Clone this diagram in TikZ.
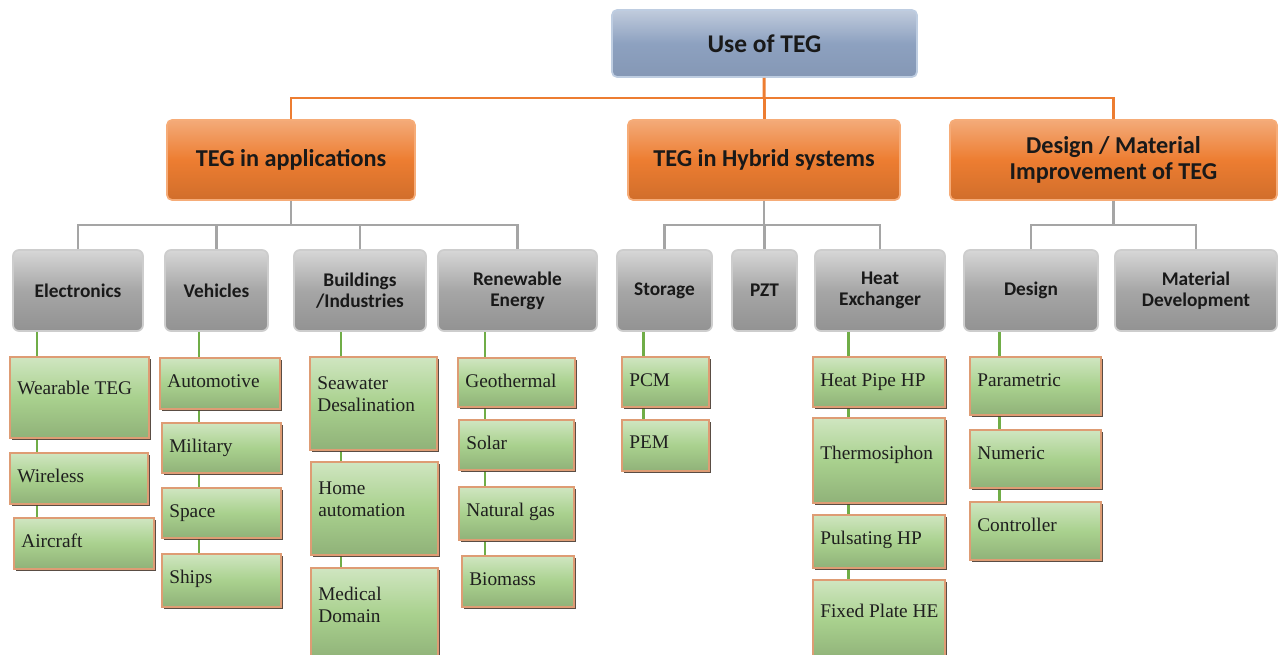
\documentclass[tikz,border=0pt]{standalone}
\usepackage{fontspec}
\setmainfont{Liberation Serif}
\newfontfamily\hdfont{Carlito}
\usetikzlibrary{calc, backgrounds, shadows}
\definecolor{topblue}{RGB}{141,161,192}
\definecolor{topedge}{RGB}{190,205,225}
\definecolor{tegorange}{RGB}{237,125,49}
\definecolor{orangeedge}{RGB}{246,172,120}
\definecolor{boxgrey}{RGB}{166,166,166}
\definecolor{greyedge}{RGB}{205,205,205}
\definecolor{leafgreen}{RGB}{169,209,142}
\definecolor{leafedge}{RGB}{222,156,116}
\definecolor{leafshadow}{RGB}{72,58,48}
\definecolor{linegreen}{RGB}{112,173,71}
\definecolor{linegrey}{RGB}{165,165,165}
\newcommand{\topfont}{\hdfont\bfseries\fontsize{14.5}{17}\selectfont}
\newcommand{\midfont}{\hdfont\bfseries\fontsize{13.8}{15}\selectfont}
\newcommand{\catfont}{\hdfont\bfseries\fontsize{11}{12}\selectfont}
\newcommand{\leaffont}{\fontsize{11}{12.5}\selectfont}

\begin{document}
\begin{tikzpicture}[x=0.02cm, y=-0.02cm,
    topbox/.style={draw=topedge, line width=1pt, rounded corners=0.1cm, top color=topblue!55!white, bottom color=topblue!94!black, middle color=topblue, minimum width=6.1cm, minimum height=1.34cm, font=\topfont, text=black!90},
    catbox/.style={draw=orangeedge, line width=1pt, rounded corners=0.1cm, top color=tegorange!65!white, bottom color=tegorange!88!black, middle color=tegorange, minimum height=1.6cm, align=center, font=\midfont, text=black!90},
    subbox/.style={draw=greyedge, line width=1pt, rounded corners=0.12cm, top color=boxgrey!45!white, bottom color=boxgrey!88!black, middle color=boxgrey, minimum height=1.62cm, align=center, font=\catfont, text=black!90},
    leaf/.style={draw=leafedge, line width=1.2pt, inner sep=0pt, top color=leafgreen!55!white, bottom color=leafgreen!85!black, middle color=leafgreen, drop shadow={shadow xshift=1.1pt, shadow yshift=-1.1pt, fill=leafshadow, opacity=0.9}},
    leaflab/.style={anchor=north west, inner sep=0pt, xshift=0.16cm, yshift=-0.34cm, align=left, font=\leaffont, text=black!88},
    orline/.style={draw=tegorange, line width=1.7pt},
    grline/.style={draw=linegrey, line width=1.5pt},
    gnline/.style={draw=linegreen, line width=1.7pt}
  ]
  \useasboundingbox (0,0) rectangle (1278,655);

  % root and main branches
  \node[topbox] (use) at (764.5,43.5) {Use of TEG};
  \node[catbox, minimum width=4.96cm] (app) at (291,160) {TEG in applications};
  \node[catbox, minimum width=5.44cm] (hyb) at (764,160) {TEG in Hybrid systems};
  \node[catbox, minimum width=6.54cm] (des) at (1113.5,160) {Design / Material\\Improvement of TEG};

  % sub categories
  \node[subbox, minimum width=2.6cm] (elec) at (78,290.5) {Electronics};
  \node[subbox, minimum width=2.06cm] (veh) at (216.5,290.5) {Vehicles};
  \node[subbox, minimum width=2.64cm] (bld) at (360,290.5) {Buildings\\/Industries};
  \node[subbox, minimum width=3.18cm] (ren) at (517.5,290.5) {Renewable\\Energy};
  \node[subbox, minimum width=1.9cm] (stor) at (664.5,290.5) {Storage};
  \node[subbox, minimum width=1.3cm] (pzt) at (764.5,290.5) {PZT};
  \node[subbox, minimum width=2.6cm] (hx) at (880,290.5) {Heat\\Exchanger};
  \node[subbox, minimum width=2.68cm] (dsg) at (1031,290.5) {Design};
  \node[subbox, minimum width=3.24cm] (mat) at (1196,290.5) {Material\\Development};

  % leaves
  \node[leaf, minimum width=2.78cm, minimum height=1.62cm, label={[leaflab, yshift=-0.16cm]north west:Wearable TEG}] (wear) at (79.5,397.5) {};
  \node[leaf, minimum width=2.76cm, minimum height=1.02cm, label={[leaflab]north west:Wireless}] (wire) at (79,478.5) {};
  \node[leaf, minimum width=2.8cm, minimum height=1.02cm, label={[leaflab]north west:Aircraft}] (air) at (84,543.5) {};

  \node[leaf, minimum width=2.4cm, minimum height=1.02cm, label={[leaflab]north west:Automotive}] (auto) at (220,383.5) {};
  \node[leaf, minimum width=2.38cm, minimum height=1cm, label={[leaflab]north west:Military}] (mil) at (221.5,448) {};
  \node[leaf, minimum width=2.38cm, minimum height=1cm, label={[leaflab]north west:Space}] (spc) at (221.5,513) {};
  \node[leaf, minimum width=2.38cm, minimum height=1.06cm, label={[leaflab]north west:Ships}] (ship) at (221.5,580.5) {};

  \node[leaf, minimum width=2.54cm, minimum height=1.86cm, label={[leaflab, yshift=-0.06cm]north west:Seawater\\Desalination}] (sea) at (373.5,403.5) {};
  \node[leaf, minimum width=2.54cm, minimum height=1.86cm, label={[leaflab, yshift=-0.08cm]north west:Home\\automation}] (home) at (374.5,508.5) {};
  \node[leaf, minimum width=2.54cm, minimum height=1.84cm, label={[leaflab, yshift=-0.06cm]north west:Medical\\Domain}] (med) at (374.5,614) {};

  \node[leaf, minimum width=2.34cm, minimum height=0.98cm, label={[leaflab]north west:Geothermal}] (geo) at (516.5,382.5) {};
  \node[leaf, minimum width=2.3cm, minimum height=1cm, label={[leaflab]north west:Solar}] (sol) at (516.5,445) {};
  \node[leaf, minimum width=2.3cm, minimum height=1.06cm, label={[leaflab]north west:Natural gas}] (gas) at (516.5,513.5) {};
  \node[leaf, minimum width=2.24cm, minimum height=1.02cm, label={[leaflab]north west:Biomass}] (bio) at (518,581.5) {};

  \node[leaf, minimum width=1.74cm, minimum height=1cm, label={[leaflab]north west:PCM}] (pcm) at (665.5,382) {};
  \node[leaf, minimum width=1.74cm, minimum height=1.02cm, label={[leaflab]north west:PEM}] (pem) at (665.5,445.5) {};

  \node[leaf, minimum width=2.64cm, minimum height=1cm, label={[leaflab]north west:Heat Pipe HP}] (hp) at (879,382) {};
  \node[leaf, minimum width=2.64cm, minimum height=1.7cm, label={[leaflab, yshift=-0.24cm]north west:Thermosiphon}] (thermo) at (879,460.5) {};
  \node[leaf, minimum width=2.64cm, minimum height=1.06cm, label={[leaflab]north west:Pulsating HP}] (puls) at (879,541.5) {};
  \node[leaf, minimum width=2.64cm, minimum height=1.6cm, label={[leaflab, yshift=-0.16cm]north west:Fixed Plate HE}] (fixed) at (879,620) {};

  \node[leaf, minimum width=2.62cm, minimum height=1.16cm, label={[leaflab]north west:Parametric}] (par) at (1035.5,386) {};
  \node[leaf, minimum width=2.62cm, minimum height=1.16cm, label={[leaflab]north west:Numeric}] (num) at (1035.5,459) {};
  \node[leaf, minimum width=2.62cm, minimum height=1.16cm, label={[leaflab]north west:Controller}] (ctrl) at (1035.5,531) {};

  % bus lines
  \coordinate (busA) at (764,98);
  \coordinate (busB) at (291,225);
  \coordinate (busC) at (764,225);
  \coordinate (busD) at (1113.5,225);

  \draw[orline] (use) -- (busA);
  \draw[orline] (app.north) |- (busA) -| (des.north);
  \draw[orline] (busA) -- (hyb.north);

  \draw[grline] (app.south) -- (busB);
  \draw[grline] (elec.north) |- (busB) -| (ren.north);
  \draw[grline] (veh.north) -- (veh.north |- busB);
  \draw[grline] (bld.north) -- (bld.north |- busB);

  \draw[grline] (hyb.south) -- (busC);
  \draw[grline] (stor.north) |- (busC) -| (hx.north);
  \draw[grline] (pzt.north) -- (pzt.north |- busC);

  \draw[grline] (des.south) -- (busD);
  \draw[grline] (dsg.north) |- (busD) -| (mat.north);

  % green stems behind the leaves
  \begin{scope}[on background layer]
    \foreach \g/\dx/\last in {elec/-41/air, veh/-17.5/ship, bld/-19/med, ren/-32.5/bio, stor/-21.5/pem, hx/-32/fixed, dsg/-32/ctrl}{
      \coordinate (stem) at ($(\g.south)+(\dx,0)$);
      \draw[gnline] (stem) -- (stem |- \last.north);
    }
  \end{scope}
\end{tikzpicture}
\end{document}
